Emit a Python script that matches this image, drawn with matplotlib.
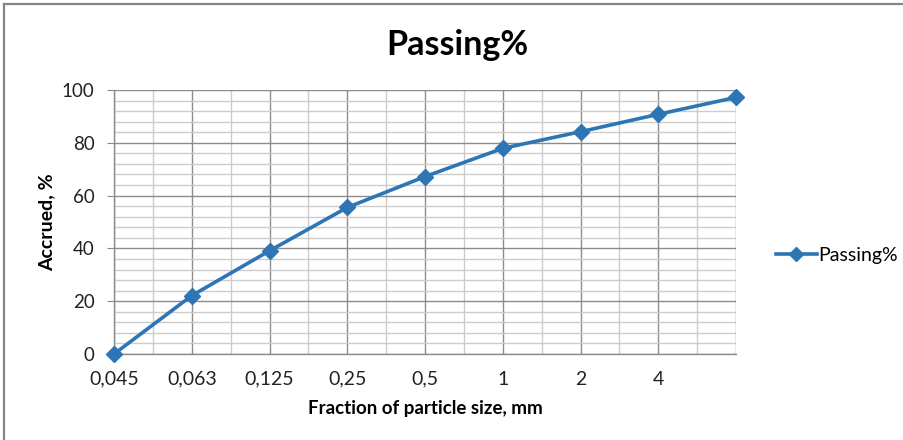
import matplotlib
matplotlib.use("Agg")
import matplotlib.pyplot as plt
from matplotlib.ticker import MultipleLocator
from matplotlib.lines import Line2D

categories = ["0,045", "0,063", "0,125", "0,25", "0,5", "1", "2", "4", ""]
passing = [0, 22.1, 39.1, 55.5, 67.2, 77.9, 84.2, 90.8, 97.2]
series_name = "Passing%"

plt.rcParams['font.family'] = ['Lato', 'DejaVu Sans']

W, H = 904, 440
fig = plt.figure(figsize=(W / 100, H / 100), dpi=100)
ax = fig.add_axes([114 / W, 1 - 354 / H, (736 - 114) / W, (354 - 90) / H])

x = list(range(len(categories)))
color = "#2E75B6"
ax.plot(x, passing, color=color, lw=2.6, marker="D", markersize=8.5,
        markeredgecolor=color, label=series_name, zorder=3, clip_on=False)

ax.set_xlim(0, len(categories) - 1)
ax.set_ylim(0, 100)
ax.set_xticks(x)
ax.set_xticklabels(categories)
ax.xaxis.set_minor_locator(MultipleLocator(0.5))
ax.yaxis.set_major_locator(MultipleLocator(20))
ax.yaxis.set_minor_locator(MultipleLocator(4))

ax.grid(which="major", color="#8c8c8c", lw=1.0)
ax.grid(which="minor", color="#cccccc", lw=1.0)
ax.set_axisbelow(True)

for s in ["top", "right"]:
    ax.spines[s].set_visible(False)
for s in ["left", "bottom"]:
    ax.spines[s].set_color("#8c8c8c")
    ax.spines[s].set_linewidth(1.0)

ax.tick_params(axis="y", which="major", length=5, color="#8c8c8c",
               labelsize=13.5, labelcolor="#222222", pad=9)
ax.tick_params(axis="y", which="minor", length=0)
ax.tick_params(axis="x", which="both", length=0, labelsize=14,
               labelcolor="#222222", pad=12)

ax.set_xlabel("Fraction of particle size, mm", fontsize=13.5, fontweight="bold",
              labelpad=9)
ax.set_ylabel("Accrued, %", fontsize=14, fontweight="bold", labelpad=5)

fig.text(457 / W, 1 - 45 / H, "Passing%", fontsize=24.5, fontweight="bold",
         ha="center", va="center")

handle = Line2D([0], [0], color=color, lw=2.6, marker="D", markersize=7)
fig.legend([handle], [series_name], loc="center left",
           bbox_to_anchor=(766 / W, 1 - 255 / H), frameon=False,
           fontsize=14, handlelength=2.1, handletextpad=0.1, borderpad=0)

# chart border (top and left visible)
fig.add_artist(Line2D([4 / W, 1], [1 - 4.5 / H, 1 - 4.5 / H],
                      color="#858585", lw=1.6, transform=fig.transFigure))
fig.add_artist(Line2D([4.5 / W, 4.5 / W], [0, 1 - 4.5 / H],
                      color="#858585", lw=1.6, transform=fig.transFigure))

fig.savefig("out.png", dpi=100, facecolor="white")
